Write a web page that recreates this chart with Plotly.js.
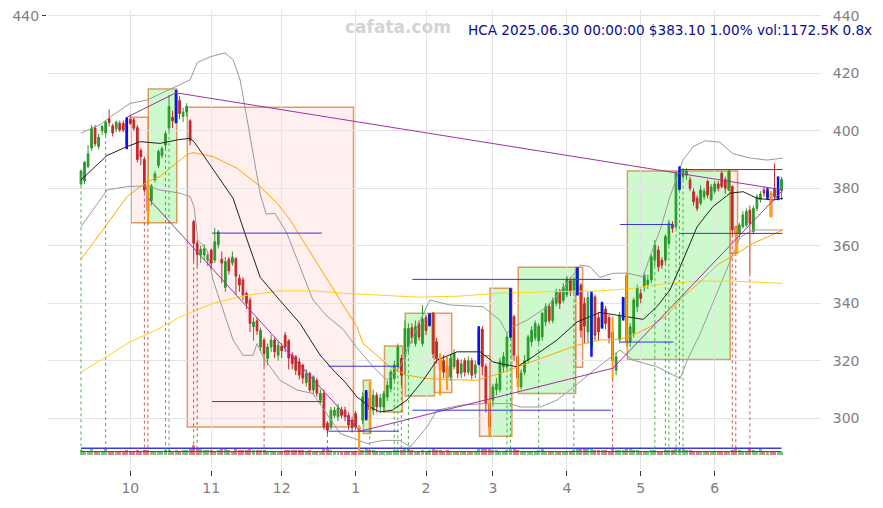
<!DOCTYPE html>
<html><head><meta charset="utf-8">
<script src="https://cdn.plot.ly/plotly-3.0.1.min.js"></script>
<style>html,body{margin:0;padding:0;background:#fff}#chart{width:883px;height:508px}</style>
</head><body><div id="chart"></div>
<script>
// ---------- data ----------
const HOLIDAYS = ['2024-11-28','2024-12-25','2025-01-01','2025-01-09','2025-01-20','2025-02-17','2025-04-18','2025-05-26','2025-06-19'];
const START = '2024-09-11', END = '2025-06-30';

const open = [381.5,382.5,387.5,394,401,394.5,400,399.2,404.2,401.7,400.7,402.6,402.6,404,404,403.8,401.1,393.1,390.1,381,
375.7,382.9,387.9,391.4,395,401,404.7,403,410.5,405,406.5,403.5,368.4,361,356.8,356.8,355,358.5,355,360.4,
355.3,345.5,355.3,354,355.5,348.7,348.1,343.4,341.1,331.8,333.9,324.8,327.2,320.8,324.8,327.2,321.9,325,328.9,327,
322,321.4,319.6,318.5,312.5,315.6,309.8,313.2,306.3,308.6,298.3,297,301,300.5,303,302.8,301,299.3,301.6,297,
299.3,300,307,302.8,308,304,303.9,307.4,310.3,313.8,317.9,320.8,321.4,324.8,331.5,326,333,326,335,332.4,
336.5,326.6,321,320,318,314.4,317.9,320.2,315.6,320,316,320,315.5,319,331,318,305,306.3,310,310,
317.9,317.9,328.3,335.3,321.4,311,316,320.2,326.6,328,327,328.3,333.5,338.8,334,340,344,341,343,348,
344.6,342.8,346.3,340,330,325,342.2,335,331.5,338,335,330,316.7,327.2,334.7,349.8,326.6,329.6,338.8,343.4,
345.7,346.5,348.1,355,358.5,355,355,360.8,367.2,366.6,380,384,384.5,382.9,378.8,376.5,374.8,377,382.4,376,
379,381.5,385.2,383,379.4,380.6,366.7,364.3,366.6,367.2,372.4,364.9,373,376,379.4,377,378.3,380,376,379.3];
const high = [386.5,389.5,395,402,402,399,402,403.5,407.4,402.5,403.5,403.5,403.5,404.7,405.5,404.5,402,394,391,383,
381.5,386,393.5,394.5,400,412.5,407,414.2,412,408,409.6,404,369,362,360,360.5,358,359,366.2,365.5,
358,356,356,358,356,350,349,344,342,335,335,331.5,328,326,329,328,327,326,330,327.5,
323,322,321,319,317,316,315,314,310,310,299,304,304,305,304,304,302,300.5,302.5,297.5,
309,309.8,312.6,310,309,308.5,309.5,313,317,320,326,322,334,333,333,334,334,339.4,336,336.5,
337,328,322.5,322,321.4,322,324,321,320.5,321,321.5,321,320,332,332,319,306.3,312,314,321,
323,330,345.2,336,322,317,322,329,332,334,333,337,340,340,342,345,345,347,349.5,349,
349,352.5,347,342,344,344,343,337,340.5,339,336,335.3,323,337,342.2,350,333,342,346.5,345,
351,350,357,362,360,356,364,369,368.5,386,387.6,387,387,384,380,377.5,381,380,383,381.5,
382.5,382.5,386,384,386.5,381,366.7,368,372,373,374,374,378,379,380.5,380,379,388.7,384.1,384];
const low = [381,381.5,387,393,394.5,393.5,398.5,398.5,401.5,398,399.5,399.5,399.5,393.6,402,400,389,388,378.5,368,
374,382,387,390.5,394,400,401,402.6,404,403,405,395,354.6,353,354,355,353,352,354,359,
347,344,350,353,343,344,341,338,330,327,329,323,318,318.5,323,321,320,321,323,317,
317,315,313.5,312,311,309,308,307.5,305,296,294.5,296,300,299,300,299,296,295,296,288.3,
298,299.3,295.8,301,302,302,302,306,309,313,317,311.5,315,323,326,325,327,325,329,332,
321,319,308,314,309.8,313,317,314,314,314.5,315,313.5,314,318.5,315,302,293.7,304,308,309,
316,317,328,320,310.9,310,315,319,325,327,326,327,332,333,333,339,338,340,342,342.5,
343.5,342.8,328,326,326,321.4,327,327,331.2,331,326,313.8,315,326,334,325,324.8,328,337,340,
344,345,347,353,351,352,354,360,364.5,366,379.4,383,383,379,374,372,374,376,376.5,375.5,
378,379,380,378,379,364,357.4,363,366,366.5,350.4,364,372,375,377,376,370,376,375.9,375.9];
const close = [386,389,392,401,395.5,397.8,401.5,403,402.9,399.2,403,400.3,400.3,395,402.6,400.9,390,391,379.4,372,
380.8,385,392.8,393.8,399,408.5,403.5,413,406,406.5,408.5,396.5,360.9,357,358.8,359,356.8,353.9,361.4,364.8,
354,354.5,351.3,356,349.5,346.3,342.8,340,333,333.5,330.4,330.6,322.5,324.8,327.2,323.1,325.4,323.5,324.8,321,
319,316.7,315,314,315.5,309.8,314.4,308.7,308.7,297,295.8,302.8,302.8,303.5,301,300.5,297.6,296.8,297,295.2,
307.4,309,303,308,304,307,308.6,311.5,316.1,318.5,324.8,315,331.2,331.2,328,332,328.3,334.5,330.5,336,
322.5,320.8,317,316,314,320.8,322.5,315.6,319,316,320,315,318.5,331,318,305,297,310.9,312,319.7,
321.4,328.3,345,321.9,314,315.7,320,328.3,330.6,333,332,336.5,338.8,334,341,344,340,345.5,348.5,344,
348,352,330.6,332,342,343,328.9,330,340,333,328,320,321.4,335.9,342,326.6,331.8,341.1,345.2,341.7,
349.8,348,356.2,360.3,352.7,353.3,363.2,367.8,366.1,385.2,386,386.4,386,380,375.3,373,379.4,379,377.7,380.5,
381.5,380,380.6,380,385.8,365.5,364,367.2,370.7,371.9,367.8,373,377.1,378,378.3,379,370.1,377.1,379.3,383.1];
const volumeK = [1650,1420,1380,1900,1510,1300,1250,2100,1350,1280,1190,1240,1310,1560,1420,1330,1680,1450,1720,1830,
1500,1320,1440,1280,1610,1590,1370,1700,1480,1560,1620,1900,3200,2000,1900,1750,1600,1540,1480,1690,
2300,2100,1650,1520,1880,1700,1610,1590,1920,1750,1580,1640,1830,1500,1420,1390,1470,1360,1550,1620,
1580,1710,1690,1600,1480,1650,1510,1420,1390,2000,1950,1800,1340,1260,1180,1250,1400,1380,1520,1760,
1650,1890,1720,1540,1460,1380,1420,1350,1500,1620,1780,1690,2400,1900,1600,1480,1520,1810,1490,1560,
1900,1740,1660,1520,1700,1450,1380,1410,1390,1350,1420,1380,1460,2300,1980,1850,2200,1720,1540,1480,
1510,1690,2050,1930,1760,1520,1480,1450,1390,1420,1560,2100,1470,1380,1420,1350,1400,1360,1450,1520,
1600,1980,2000,1900,2100,2000,1760,1690,1620,1540,1500,1880,1700,1620,1750,2200,1900,1800,1650,1520,
1480,1440,1560,1600,1510,1420,1630,1700,1550,2200,2000,1900,1600,1540,1500,1460,1420,1380,1450,1400,
1390,1350,1420,1380,1450,1700,1900,1600,1520,1480,1900,1650,1500,2400,1400,1380,1460,1420,1520,1172.5];

// highlighted candles and signal days (trading-day index)
const blueDays = [13,27,81,99,113,122,141,145,148,154,170,195,198];
const orangeDays = [19,79,82,102,104,116,124,151,155,186,196];
const greenSignalDays = [0,7,24,25,82,89,90,91,93,121,122,130,140,163,166,167,169,170,171];
const redSignalDays = [18,19,32,33,52,70,151,185,186,190];

// moving averages / bands: [trading-day index, price]
const ma20 = [[0,382.9],[7.4,391.4],[13.1,394.5],[16.8,396.2],[22.4,395.6],[27.3,396.8],[31,397.4],[32.1,396.2],[37.5,386.6],[43.2,376.5],[47.2,362],[50.9,349],[56.5,341],[62.2,333],[67.9,322],[72.2,316],[75,312.6],[78.4,307.4],[82.1,303.9],[84.9,302.2],[88.4,302.8],[92.6,306.3],[97.2,313.2],[101.1,320.2],[106.8,323.1],[113.4,323.1],[117,319.6],[119,319],[123.9,317.9],[128.4,321.4],[135.2,327.2],[140.9,333.5],[147.4,336.8],[153.1,335.6],[159.7,334.4],[163.6,338.8],[167.3,344.6],[171,355],[175,366.6],[179.5,373.6],[184.4,378.3],[188.1,378.8],[192,376.5],[196.6,375.9],[199.4,376.5]];
const ma50 = [[0,355.4],[4.5,362.7],[13.1,377.1],[18.8,382.3],[22.4,384.1],[26.1,387.6],[30.1,391.7],[31.8,392.4],[37.5,391],[44.3,387],[50.9,380.6],[55.7,374.8],[59.4,369],[65.9,356.2],[69.9,348.1],[73.6,341.1],[78.4,331.8],[80.1,326],[84.9,321],[87.8,317.9],[92.6,315],[98.3,313.8],[105.7,313.4],[112.5,313.2],[119,315.6],[126.7,319],[133.2,321.9],[140.9,325.4],[147.4,327.2],[153.1,327.5],[156.8,328.9],[161.6,331.8],[166.5,335.9],[171,342.2],[175.9,347.5],[180.7,353.3],[185.2,356.5],[190.9,360.8],[199.4,365.5]];
const ma200 = [[0,316],[5.4,320.2],[13.9,326.5],[22.4,331.3],[28.1,335.2],[37.5,340],[47.2,342.8],[56.5,344.3],[65.9,344.3],[75.6,343.4],[84.9,342.8],[96.3,342.1],[107.7,342.5],[119,343.5],[133.2,344],[147.4,344.3],[156.8,345.2],[166.5,346.9],[175.9,347.7],[185.2,347.7],[199.4,346.9]];
const bandUpper = [[0,399.2],[5.4,402.1],[8.2,404.7],[13.9,409.5],[18.8,410.7],[22.4,412.8],[26.1,414.8],[31,417.7],[33,423.7],[36.6,425.7],[40.9,427.1],[43.2,424.7],[45.2,417.7],[48,398],[50.9,378],[52.6,371],[55.1,371.3],[58.5,364.3],[62.2,352.7],[65.9,341.1],[69.9,335.5],[74.4,331],[78.4,324.5],[83,317.9],[86.9,313.2],[90.6,317.9],[95.5,331.8],[99.1,341.1],[104.8,339.4],[114.2,338.8],[119,334.1],[121,329.5],[122.7,331.8],[126.7,334.1],[132.4,338.8],[138.1,346.9],[141.8,353.3],[144.6,352.7],[147.4,349],[151.1,350.4],[155.1,350.5],[159.7,349.2],[161.6,356.2],[164.5,365.5],[167.3,377.1],[171,389.8],[173.9,394.5],[177.3,396.5],[181.5,396],[185.2,392],[190.1,390.5],[194.9,389.8],[199.4,390.5]];
const bandLower = [[0,366.6],[3.4,372.4],[7.4,379.4],[13.1,380.6],[18.8,380.8],[22.4,379.4],[28.1,378.3],[31,377.1],[32.1,373.6],[33.2,362],[35.8,358.5],[37.5,348.1],[40.3,337.6],[43.2,327.2],[46,321.9],[48.9,321.9],[50,326],[51.7,321.4],[56.5,313.2],[61.4,309.8],[65.9,308.6],[69.9,301.6],[73.6,294.7],[76.4,293.5],[81.3,291.2],[85.8,292.3],[90.6,292.3],[93.5,290],[98.3,297],[101.1,302.8],[107.7,304.5],[114.2,305.1],[121.9,305.1],[124.7,303.9],[130.4,303.9],[135.2,306.3],[138.9,309.8],[144.6,315.6],[149.4,320.2],[153.1,323.7],[156.8,320.2],[163.6,317.9],[170.2,313.8],[172.2,320.2],[175.9,329.5],[179.5,340],[183.5,352],[187.2,363],[190.9,365.5],[199.4,365.5]];

// zones: [startDay, endDay, high, low, kind]
const zoneStart = [14.2,19.1,30.2,80.2,86.2,92.1,100.4,113.2,116.2,124.2,140.5,155.2,184.4];
const zoneEnd   = [19.1,27.2,77.4,82.3,91.3,100.4,105.3,116.2,122.4,140.5,142.5,184.4,186.5];
const zoneHigh  = [404.7,414.5,408.2,313.2,325.1,336.5,336.5,321.7,345.2,352.5,352.5,386,386];
const zoneLow   = [368,368,297,294.7,302.2,307.7,309,293.7,293.7,308.6,317.7,320.4,357.4];
const zoneKind  = ['down','up','down','up','up','up','down','down','up','up','down','up','down'];

// support / resistance segments
const levelStart = [37.2,70.3,94.1,153.1,170.2];
const levelEnd   = [68.4,90.3,150.5,168.3,199.3];
const levelHigh  = [364.4,318.1,348.3,367.4,386.5];
const levelLow   = [305.8,295.5,302.8,326.5,364.3];

// trend lines [day, price]
const trendA = [[13.2,404.8],[27,413.2],[199.4,379.4]];
const trendB = [[19.1,376.5],[79.3,295.5]];
const trendC = [[79.3,295.5],[151.1,317.4],[199.4,379.4]];

const volAvgLevels = [289.55, 288.4];
const TITLE = 'HCA 2025.06.30 00:00:00 $383.10 1.00% vol:1172.5K 0.8x';

// ---------- build ----------
function tradingDays(s, e, hol){
  const h = new Set(hol), out = [];
  let d = new Date(s + 'T00:00:00Z'); const end = new Date(e + 'T00:00:00Z').getTime();
  while (d.getTime() <= end){
    const wd = d.getUTCDay(), iso = d.toISOString().slice(0,10);
    if (wd !== 0 && wd !== 6 && !h.has(iso)) out.push(iso);
    d = new Date(d.getTime() + 86400000);
  }
  return out;
}
const dates = tradingDays(START, END, HOLIDAYS);
const idx = dates.map((_, i) => i);
const tickvals = [], ticktext = [];
dates.forEach((d, i) => { if (i > 0 && d.slice(5,7) !== dates[i-1].slice(5,7)) { tickvals.push(i); ticktext.push(String(parseInt(d.slice(5,7),10))); } });

const GREEN = '#2a9a2a', RED = '#c02a2a';
const traces = [];
const lineTrace = (pts, color, w) => ({type:'scatter', mode:'lines', x: pts.map(p=>p[0]), y: pts.map(p=>p[1]), line:{color, width:w}, hoverinfo:'skip', showlegend:false});

// volume bars
const VBASE = 287.1, VSCALE = 1.6/1450;
traces.push({type:'bar', x: idx, y: volumeK.map(v => v*VSCALE), base: VBASE, width: 0.85,
  marker:{color: idx.map(i => close[i] >= open[i] ? 'rgba(42,154,42,0.6)' : 'rgba(200,42,42,0.6)'), line:{width:0}}, hoverinfo:'skip', showlegend:false});
volAvgLevels.forEach((v, k) => traces.push({type:'scatter', mode:'lines', x:[0,199], y:[v,v], line:{color: k===0 ? '#3a3ae8' : '#4040c0', width: k===0?1.5:1}, hoverinfo:'skip', showlegend:false}));

// signal dotted lines
function dotted(days, color){
  const x = [], y = [];
  days.forEach(d => { x.push(d, d, null); y.push(low[d], 288.6, null); });
  return {type:'scatter', mode:'lines', x, y, line:{color, width:1, dash:'dot'}, hoverinfo:'skip', showlegend:false};
}
traces.push(dotted(greenSignalDays, 'rgba(42,154,42,0.8)'));
traces.push(dotted(redSignalDays, 'rgba(192,42,42,0.8)'));

// bands and MAs
traces.push(lineTrace(bandUpper, '#9a9a9a', 1));
traces.push(lineTrace(bandLower, '#9a9a9a', 1));
traces.push(lineTrace(ma200, '#ffd21a', 1));
traces.push(lineTrace(ma50, '#ffa500', 1));
traces.push(lineTrace(ma20, '#222222', 1));

// candles
traces.push({type:'candlestick', x: idx, open, high, low, close,
  increasing:{line:{color:GREEN, width:1}, fillcolor:GREEN},
  decreasing:{line:{color:RED, width:1}, fillcolor:RED},
  whiskerwidth:0, hoverinfo:'skip', showlegend:false});

// highlighted candles
function highlight(days, color, w){
  const x = [], y = [];
  days.forEach(d => { x.push(d, d, null); y.push(high[d], low[d], null); });
  return {type:'scatter', mode:'lines', x, y, line:{color, width:w}, hoverinfo:'skip', showlegend:false};
}
traces.push(highlight(blueDays, '#1010ee', 2.5));
traces.push(highlight(orangeDays, '#ffa000', 2));

// trend lines
[trendA, trendB, trendC].forEach(t => traces.push(lineTrace(t, '#a030a8', 1)));

// levels
levelStart.forEach((s, k) => {
  traces.push({type:'scatter', mode:'lines', x:[s, levelEnd[k], null, s, levelEnd[k]], y:[levelHigh[k], levelHigh[k], null, levelLow[k], levelLow[k]],
    line:{color:'#3535e0', width:1}, hoverinfo:'skip', showlegend:false});
});

const shapes = zoneStart.map((s, k) => ({type:'rect', xref:'x', yref:'y', x0:s, x1:zoneEnd[k], y0:zoneLow[k], y1:zoneHigh[k], layer:'below',
  fillcolor: zoneKind[k] === 'up' ? 'rgba(60,235,60,0.26)' : 'rgba(255,120,120,0.12)',
  line:{color:'rgba(215,140,70,0.85)', width:1.5}}));

const layout = {
  width:883, height:508, margin:{l:47, r:62, t:10, b:38},
  paper_bgcolor:'#fff', plot_bgcolor:'#fff', showlegend:false, bargap:0,
  font:{family:'DejaVu Sans, sans-serif', color:'#808080'},
  xaxis:{range:[-9.66, 210.2], tickvals, ticktext, showgrid:true, gridcolor:'#e3e3e3', gridwidth:1, zeroline:false, showline:false,
    ticks:'outside', ticklen:5, tickcolor:'#333', tickfont:{size:14, color:'#808080'}, rangeslider:{visible:false}, fixedrange:true},
  yaxis:{range:[282, 442], side:'right', tickvals:[300,320,340,360,380,400,420,440], showgrid:true, gridcolor:'#e3e3e3', zeroline:false, showline:false,
    ticks:'outside', ticklen:8, tickcolor:'rgba(0,0,0,0)', tickfont:{size:14, color:'#808080'}},
  yaxis2:{range:[282, 442], overlaying:'y', side:'left', tickvals:[440], showgrid:false, zeroline:false, showline:false,
    ticks:'outside', ticklen:4, tickcolor:'#333', tickfont:{size:14, color:'#808080'}},
  shapes,
  annotations:[
    {xref:'paper', yref:'paper', x:(398-47)/774, y:1-(27-10)/460, xanchor:'center', yanchor:'middle', text:'<b>cafata.com</b>', showarrow:false, font:{size:17, color:'#d4d4d4'}},
    {xref:'paper', yref:'paper', x:(874-47)/774, y:1-(30-10)/460, xanchor:'right', yanchor:'middle', text:TITLE, showarrow:false, font:{size:13.6, color:'#0a0a96'}}
  ]
};
traces.push({type:'scatter', mode:'markers', x:[0], y:[440], yaxis:'y2', marker:{opacity:0}, hoverinfo:'skip', showlegend:false});
Plotly.newPlot('chart', traces, layout, {staticPlot:true, displayModeBar:false});
</script></body></html>
